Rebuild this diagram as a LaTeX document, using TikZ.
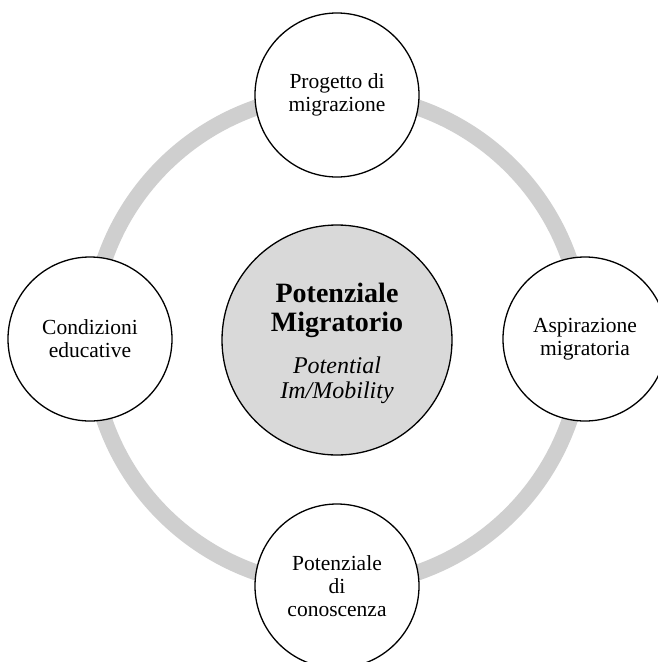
\documentclass[tikz,border=0pt]{standalone}
\usepackage{fontspec}
\setmainfont{Liberation Serif}
\definecolor{ringgray}{HTML}{CFCFCF}
\definecolor{hubgray}{HTML}{D9D9D9}
\tikzset{
  sat/.style={circle, draw=black, line width=1.3pt, fill=white, minimum size=164pt, inner sep=0pt},
  sattext/.style={align=center, font=\fontsize{21.5}{23}\selectfont},
  hub/.style={circle, draw=black, line width=1.3pt, fill=hubgray, minimum size=230pt, inner sep=0pt},
}
\begin{document}
\begin{tikzpicture}[x=1pt,y=-1pt]
\useasboundingbox (0,0) rectangle (658,662);
\clip (0,0) rectangle (658,662);
\fill[white] (0,0) rectangle (658,662);
\coordinate (c) at (337,340);
\draw[ringgray, line width=16pt] (c) circle[radius=246];
\node[hub] (hub) at (c) {};
\node[align=center, font=\bfseries\fontsize{28}{29}\selectfont] (title) at (337,310) {Potenziale\\Migratorio};
\node[align=center, font=\itshape\fontsize{24}{25}\selectfont] (sub) at (337,380) {Potential\\Im/Mobility};
\node[sat] (top) at (337,95) {};
\node[sat] (left) at (90,339) {};
\node[sat] (right) at (585,339) {};
\node[sat] (bottom) at (337,586) {};
\node[sattext] (toptext) at (top) {Progetto di\\migrazione};
\node[sattext] (lefttext) at (left) {Condizioni\\educative};
\node[sattext] (righttext) at (right) {Aspirazione\\migratoria};
\node[sattext] (bottomtext) at (bottom) {Potenziale\\di\\conoscenza};
\end{tikzpicture}
\end{document}
